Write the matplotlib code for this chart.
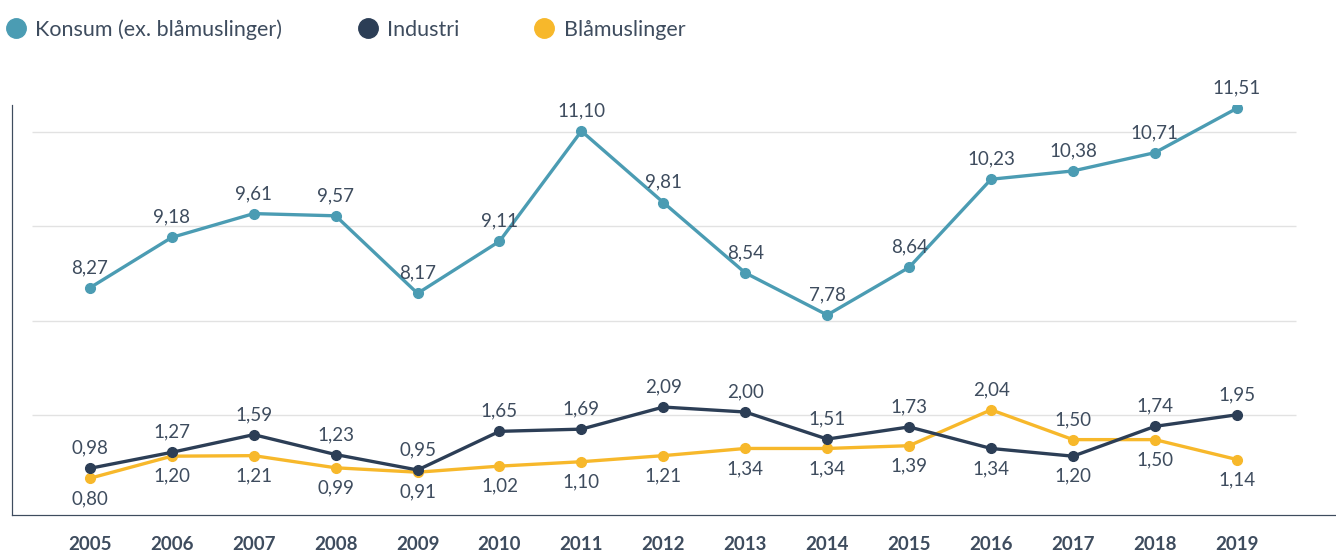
import matplotlib.pyplot as plt
from matplotlib.lines import Line2D

years = [2005, 2006, 2007, 2008, 2009, 2010, 2011, 2012, 2013, 2014, 2015, 2016, 2017, 2018, 2019]
konsum = [8.27, 9.18, 9.61, 9.57, 8.17, 9.11, 11.10, 9.81, 8.54, 7.78, 8.64, 10.23, 10.38, 10.71, 11.51]
industri = [0.98, 1.27, 1.59, 1.23, 0.95, 1.65, 1.69, 2.09, 2.00, 1.51, 1.73, 1.34, 1.20, 1.74, 1.95]
blaamusl = [0.80, 1.20, 1.21, 0.99, 0.91, 1.02, 1.10, 1.21, 1.34, 1.34, 1.39, 2.04, 1.50, 1.50, 1.14]

# label above (+1) or below (-1) the point
ind_pos = [1, 1, 1, 1, 1, 1, 1, 1, 1, 1, 1, -1, -1, 1, 1]
bla_pos = [-1, -1, -1, -1, -1, -1, -1, -1, -1, -1, -1, 1, 1, -1, -1]

c_kon = "#4b9cb3"
c_ind = "#2c3e56"
c_bla = "#f7b82b"
txt = "#3e4c5e"

plt.rcParams["font.family"] = ["Lato", "DejaVu Sans"]

fig = plt.figure(figsize=(13.36, 5.54), dpi=100)
ax = fig.add_axes([12 / 1336, 1 - 515 / 554, 1 - 12 / 1336, 410 / 554])
ax2 = ax.twinx()

ax.set_xlim(2004.05, 2020.21)
ax.set_ylim(4.17, 11.57)
ax2.set_ylim(0.135, 7.56)

for g in [11.08, 9.39, 7.67, 5.98]:
    ax.hlines(g, 2004.29, 2019.72, color="#e2e2e2", lw=1, zorder=0)

ax.plot(years, konsum, color=c_kon, lw=2.4, marker="o", ms=7, zorder=3)
ax2.plot(years, blaamusl, color=c_bla, lw=2.4, marker="o", ms=7, zorder=3)
ax2.plot(years, industri, color=c_ind, lw=2.4, marker="o", ms=7, zorder=4)

def lab(a, v, p):
    return a.annotate(f"{v:.2f}".replace(".", ","), (yr, v), xytext=(0, 14.5 * p),
                      textcoords="offset points", ha="center", va="center",
                      fontsize=13.5, color=txt)

for yr, v in zip(years, konsum):
    lab(ax, v, 1)
for yr, v, p in zip(years, industri, ind_pos):
    lab(ax2, v, p)
for yr, v, p in zip(years, blaamusl, bla_pos):
    lab(ax2, v, p)

ax.set_xticks(years)
ax.set_xticklabels([str(y) for y in years], fontsize=13.5, fontweight="bold", color=txt)
ax.tick_params(axis="x", length=0, pad=15)
ax.set_yticks([])
ax2.set_yticks([])
for a in (ax, ax2):
    a.spines["top"].set_visible(False)
    a.spines["right"].set_visible(False)
    a.spines["left"].set_color(txt)
    a.spines["bottom"].set_color(txt)
    a.spines["left"].set_linewidth(0.8)
    a.spines["bottom"].set_linewidth(0.8)
    a.patch.set_visible(False)

handles = [Line2D([], [], ls="", marker="o", ms=14, color=c) for c in (c_kon, c_ind, c_bla)]
fig.legend(handles, ["Konsum (ex. blåmuslinger)", "Industri", "Blåmuslinger"],
           loc="upper left", bbox_to_anchor=(-0.0105, 1.0), ncol=3, frameon=False,
           fontsize=15.5, labelcolor=txt, handlelength=1.0, handletextpad=0.4,
           columnspacing=3.45)

fig.savefig("out.png", dpi=100)
